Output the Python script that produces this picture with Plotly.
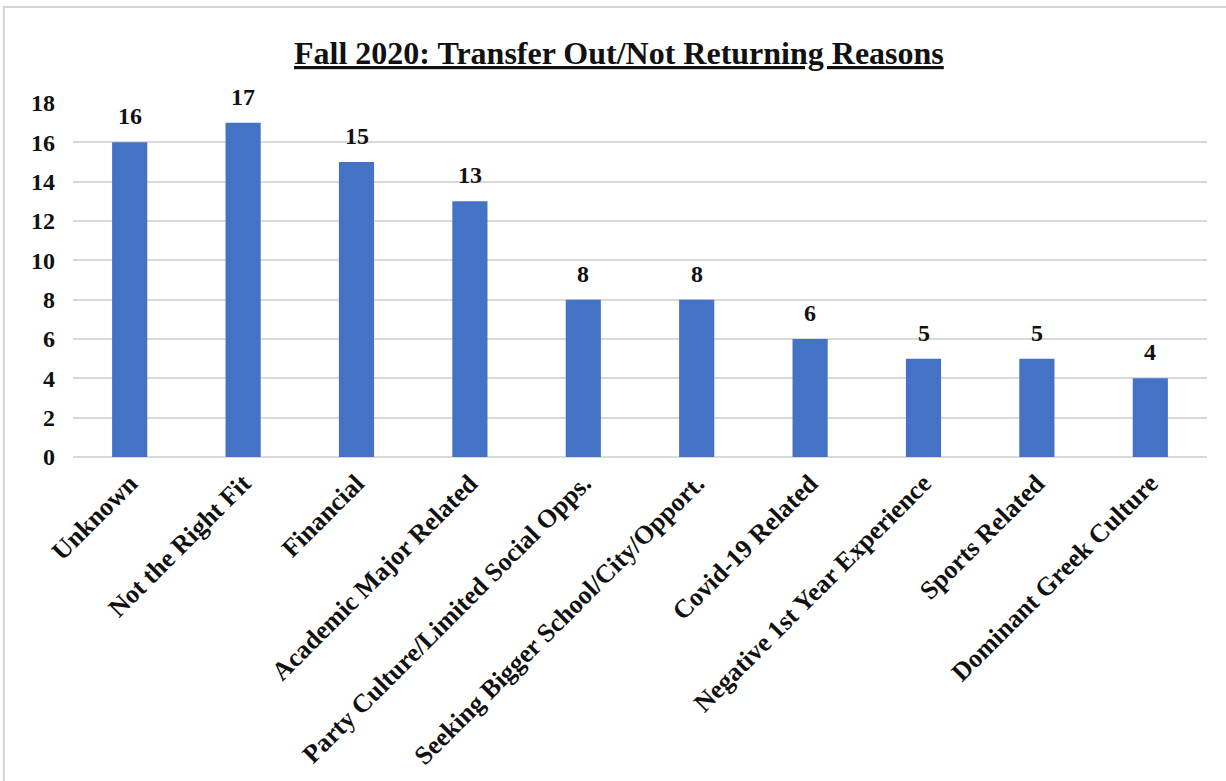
import plotly.graph_objects as go

# Reasons students transferred out / did not return, Fall 2020
reasons = [
    "Unknown",
    "Not the Right Fit",
    "Financial",
    "Academic Major Related",
    "Party Culture/Limited Social Opps.",
    "Seeking Bigger School/City/Opport.",
    "Covid-19 Related",
    "Negative 1st Year Experience",
    "Sports Related",
    "Dominant Greek Culture",
]
counts = [16, 17, 15, 13, 8, 8, 6, 5, 5, 4]
y_ticks = [0, 2, 4, 6, 8, 10, 12, 14, 16, 18]

title_text = "<u>Fall 2020: Transfer Out/Not Returning Reasons</u>"

SERIF = "Liberation Serif"
BAR_BLUE = "#4472C4"
GRID = "#d9d9d9"
INK = "#111111"

fig = go.Figure(
    go.Bar(
        x=reasons,
        y=counts,
        marker=dict(color=BAR_BLUE, line=dict(width=0)),
        width=0.31,
        hoverinfo="x+y",
    )
)

# value labels above each bar
for r, c in zip(reasons, counts):
    fig.add_annotation(
        x=r, y=c, text=f"<b>{c}</b>", showarrow=False,
        yanchor="bottom", yshift=11,
        font=dict(family=SERIF, size=24, color=INK),
    )

# chart title
fig.add_annotation(
    x=0.4815, y=1.0, xref="paper", yref="paper",
    text=f"<b>{title_text}</b>", showarrow=False,
    yanchor="bottom", yshift=30,
    font=dict(family=SERIF, size=32, color=INK),
)

# light frame around the chart
fig.add_shape(
    type="rect", xref="paper", yref="paper",
    x0=-0.061, x1=1.2, y0=-1.2, y1=1.271,
    line=dict(color="#d4d4d4", width=2), fillcolor="rgba(0,0,0,0)",
    layer="below",
)

fig.update_layout(
    width=1226,
    height=781,
    margin=dict(l=73, r=19, t=103, b=324),
    paper_bgcolor="white",
    plot_bgcolor="white",
    showlegend=False,
    xaxis=dict(
        tickangle=-45,
        tickfont=dict(family=SERIF, size=26, color=INK, weight="bold"),
        showgrid=False,
        showline=False,
        ticks="",
        ticklabelstandoff=5,
        automargin=False,
    ),
    yaxis=dict(
        range=[0, 18],
        tickvals=y_ticks,
        ticktext=[str(v) for v in y_ticks],
        tickfont=dict(family=SERIF, size=24, color=INK, weight="bold"),
        showgrid=True,
        gridcolor=GRID,
        gridwidth=1.5,
        zeroline=True,
        zerolinecolor=GRID,
        zerolinewidth=1.5,
        ticks="",
        ticklabelstandoff=17,
        automargin=False,
    ),
)

fig.write_html("out.html")
